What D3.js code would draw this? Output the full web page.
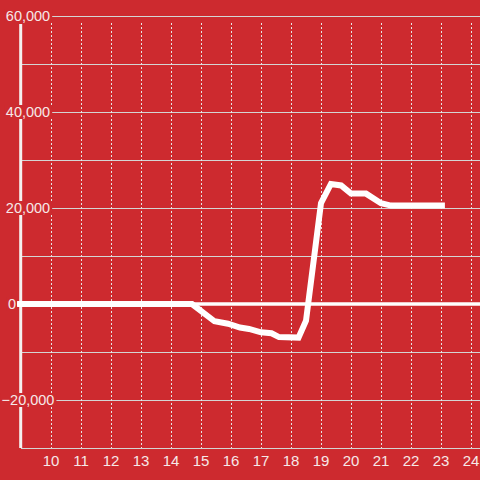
<!DOCTYPE html>
<html>
<head>
<meta charset="utf-8">
<script src="https://cdn.jsdelivr.net/npm/d3@7"></script>
<style>
  html, body { margin: 0; padding: 0; background: #cd2a2f; }
  svg { display: block; }
</style>
</head>
<body>
<div id="chart"></div>
<script>
// hour of day
const hours = [8.87, 14.7, 15.45, 15.9, 16.3, 16.6, 17.0, 17.35, 17.6, 18.25, 18.5, 19.0, 19.33, 19.67, 20.0, 20.5, 21.0, 21.33, 23.13];
// net value
const values = [0, 0, -3600, -4100, -4900, -5200, -5900, -6100, -6900, -7000, -3500, 21000, 25000, 24700, 23000, 23000, 21000, 20500, 20500];
const xTicks = [10, 11, 12, 13, 14, 15, 16, 17, 18, 19, 20, 21, 22, 23, 24];
const yTicks = [-30000, -20000, -10000, 0, 10000, 20000, 30000, 40000, 50000, 60000];
const yLabelTicks = [-20000, 0, 20000, 40000, 60000];

const W = 480, H = 480;
const bg = '#cd2a2f';

const svg = d3.select('#chart').append('svg')
    .attr('width', W)
    .attr('height', H);

svg.append('rect').attr('width', W).attr('height', H).attr('fill', bg);

const x = d3.scaleLinear().domain([9, 24.3]).range([21, 480]);
const y = d3.scaleLinear().domain([-30000, 60000]).range([448, 16]);

// horizontal grid
svg.append('g')
    .selectAll('line')
    .data(yTicks.filter(d => d !== 0 && d !== -30000))
    .enter()
    .append('line')
    .attr('x1', 21).attr('x2', W)
    .attr('y1', d => y(d) + 0.5).attr('y2', d => y(d) + 0.5)
    .attr('stroke', '#d4d4d4')
    .attr('stroke-width', 1);

// vertical dotted grid
svg.append('g')
    .selectAll('line')
    .data(xTicks)
    .enter()
    .append('line')
    .attr('x1', d => Math.round(x(d)) + 0.5).attr('x2', d => Math.round(x(d)) + 0.5)
    .attr('y1', 23).attr('y2', 448)
    .attr('stroke', '#e6e6e6')
    .attr('stroke-width', 1)
    .attr('stroke-dasharray', '2,2');

// bottom axis line
svg.append('line')
    .attr('x1', 21).attr('x2', W)
    .attr('y1', y(-30000) + 0.5).attr('y2', y(-30000) + 0.5)
    .attr('stroke', '#d4d4d4')
    .attr('stroke-width', 1);

// y axis bar
svg.append('line')
    .attr('x1', 20.7).attr('x2', 20.7)
    .attr('y1', 24).attr('y2', 448)
    .attr('stroke', '#f4f0f0')
    .attr('stroke-width', 3);

// y labels with background (drawn before the zero line so it stays on top)
const yl = svg.append('g')
    .selectAll('g')
    .data(yLabelTicks)
    .enter()
    .append('g')
    .attr('transform', d => `translate(${d === 0 ? 12 : 28}, ${y(d)})`);

yl.append('text')
    .attr('text-anchor', 'middle')
    .attr('dominant-baseline', 'central')
    .attr('font-family', 'Liberation Sans, Arial, sans-serif')
    .attr('font-size', '14.5px')
    .attr('fill', '#f6e8e8')
    .text(d => d3.format(',')(d))
    .each(function () {
        const b = this.getBBox();
        d3.select(this.parentNode).insert('rect', 'text')
            .attr('x', b.x - 1).attr('y', b.y + 1)
            .attr('width', b.width + 3).attr('height', b.height - 2)
            .attr('fill', bg);
    });

// zero line
svg.append('line')
    .attr('x1', 17).attr('x2', W)
    .attr('y1', y(0)).attr('y2', y(0))
    .attr('stroke', '#ffffff')
    .attr('stroke-width', 3.5);

// data line
const line = d3.line()
    .x((d, i) => x(hours[i]))
    .y(d => y(d));

svg.append('path')
    .datum(values)
    .attr('d', line)
    .attr('fill', 'none')
    .attr('stroke', '#ffffff')
    .attr('stroke-width', 6)
    .attr('stroke-linejoin', 'miter');

// x labels
svg.append('g')
    .selectAll('text')
    .data(xTicks)
    .enter()
    .append('text')
    .attr('x', d => x(d))
    .attr('y', 466)
    .attr('text-anchor', 'middle')
    .attr('font-family', 'Liberation Sans, Arial, sans-serif')
    .attr('font-size', '15px')
    .attr('fill', '#f6e8e8')
    .text(d => d);
</script>
</body>
</html>
